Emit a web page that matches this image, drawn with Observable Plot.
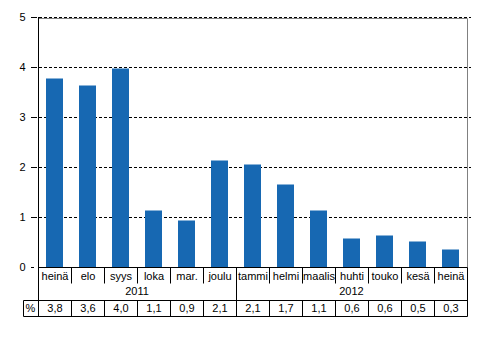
<!DOCTYPE html>
<html><head><meta charset="utf-8">
<script src="https://cdn.jsdelivr.net/npm/d3@7"></script>
<script src="https://cdn.jsdelivr.net/npm/@observablehq/plot@0.6"></script>
<style>body{margin:0;background:#fff;} svg{display:block}</style>
</head><body><div id="chart"></div>
<script>
const months = ["heinä","elo","syys","loka","mar.","joulu","tammi","helmi","maalis","huhti","touko","kesä","heinä"];
const years = ["2011","2011","2011","2011","2011","2011","2012","2012","2012","2012","2012","2012","2012"];
const values = [3.77,3.63,3.97,1.13,0.93,2.13,2.05,1.65,1.13,0.57,0.63,0.51,0.35];
const valueLabels = ["3,8","3,6","4,0","1,1","0,9","2,1","2,1","1,7","1,1","0,6","0,6","0,5","0,3"];
const yTicks = [0,1,2,3,4,5];
const unitLabel = "%";

const keys = months.map((m,i)=>`${m} ${years[i]}`);
const data = keys.map((k,i)=>({key:k, month:months[i], year:years[i], value:values[i], label:valueLabels[i]}));
const font = "'Liberation Sans', Arial, sans-serif";

function table(index, scales) {
  const x = scales.x, y = scales.y;
  const step = typeof x.step === "function" ? x.step() : x.bandwidth();
  const px = v => Math.round(v) + 0.5;
  const xs = keys.map(k => x(k));
  const xL = xs[0], xR = xs[xs.length-1] + step;
  const yTop = y(5), y0 = y(0);
  const g = d3.create("svg:g").attr("font-family", font).attr("font-size", 11);
  const ln = (xa,ya,xb,yb,c="#000") => g.append("line")
    .attr("x1",xa).attr("y1",ya).attr("x2",xb).attr("y2",yb)
    .attr("stroke",c).attr("stroke-width",1);
  ln(xL, px(yTop+1), px(xR), px(yTop+1), "#808080");
  ln(px(xR), px(yTop+1), px(xR), px(y0), "#808080");
  ln(px(xL), px(y0), px(xR), px(y0));
  const rowMonth = y0 + 16, rowYear = y0 + 33, rowVal = y0 + 49;
  ln(px(xL), yTop, px(xL), px(rowVal));
  ln(px(xR), px(y0), px(xR), px(rowVal));
  for (let i = 1; i < keys.length; i++) {
    const xb = px(xs[i]);
    const end = years[i] !== years[i-1] ? rowYear : rowMonth;
    ln(xb, px(y0), xb, px(end));
    ln(xb, px(rowYear), xb, px(rowVal));
  }
  const xBox = xL - 15;
  ln(px(xBox), px(rowYear), px(xR), px(rowYear));
  ln(px(xBox), px(rowVal), px(xR), px(rowVal));
  ln(px(xBox), px(rowYear), px(xBox), px(rowVal));
  const uniq = [...new Set(years)];
  for (const yr of uniq) {
    const f = years.indexOf(yr), l = years.lastIndexOf(yr);
    g.append("text").attr("x", (xs[f] + xs[l] + step)/2).attr("y", y0 + 24)
      .attr("text-anchor","middle").attr("dy","0.35em").attr("fill","#000").text(yr);
  }
  g.append("text").attr("x", (xBox + xL)/2).attr("y", y0 + 41)
    .attr("text-anchor","middle").attr("dy","0.35em").attr("fill","#000").text(unitLabel);
  return g.node();
}

const chart = Plot.plot({
  width: 493, height: 362,
  marginLeft: 34, marginRight: 22, marginTop: 17, marginBottom: 95,
  style: {fontFamily: font, fontSize: "11px", background: "#fff", color: "#000"},
  x: {domain: keys, padding: 0, axis: null},
  y: {domain: [0, 5], axis: null},
  marks: [
    Plot.ruleY(yTicks.filter(d => d > 0), {stroke: "#000", strokeDasharray: "3,2", strokeWidth: 1}),
    Plot.barY(data, {x: "key", y: "value", fill: "#1768b2", insetLeft: 8, insetRight: 8}),
    Plot.axisY(yTicks, {tickSize: 3, tickPadding: 6, fontSize: 11, stroke: "#000", fill: "#000", tickFormat: "d", label: null}),
    Plot.text(data, {x: "key", y: 0, text: "month", dy: 9, lineAnchor: "middle", fill: "#000", fontSize: 11}),
    Plot.text(data, {x: "key", y: 0, text: "label", dy: 41, lineAnchor: "middle", fill: "#000", fontSize: 11}),
    table
  ]
});
document.getElementById("chart").appendChild(chart);
</script>
</body></html>
